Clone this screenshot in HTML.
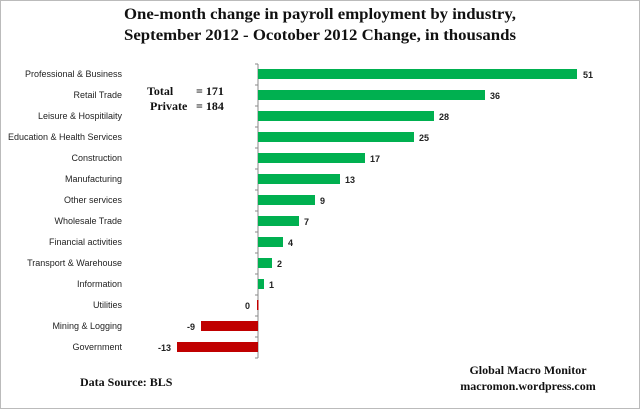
<!DOCTYPE html>
<html><head><style>
body{margin:0;background:#fff}
</style></head><body>
<svg width="640" height="409" xmlns="http://www.w3.org/2000/svg" font-family="'Liberation Sans',sans-serif">
<rect x="0.5" y="0.5" width="639" height="408" fill="#fff" stroke="#bbb"/>
<g font-family="'Liberation Serif',serif" font-weight="bold" font-size="16" text-anchor="middle" fill="#111">
<text x="320" y="19" textLength="392" lengthAdjust="spacingAndGlyphs">One-month change in payroll employment by industry,</text>
<text x="320" y="40" textLength="392" lengthAdjust="spacingAndGlyphs">September 2012 - Ocotober 2012  Change, in thousands</text>
</g>
<g font-family="'Liberation Serif',serif" font-weight="bold" font-size="12" fill="#111">
<text x="147" y="95">Total</text><text x="196" y="95">= 171</text>
<text x="150" y="110">Private</text><text x="196" y="110">= 184</text>
<text x="80" y="386">Data Source:  BLS</text>
<text x="528" y="374" text-anchor="middle">Global Macro Monitor</text>
<text x="528" y="390" text-anchor="middle">macromon.wordpress.com</text>
</g>
<line x1="258" y1="64" x2="258" y2="358" stroke="#888"/>
<g stroke="#888">
<line x1="255" y1="64" x2="258" y2="64"/><line x1="255" y1="85" x2="258" y2="85"/><line x1="255" y1="106" x2="258" y2="106"/><line x1="255" y1="127" x2="258" y2="127"/><line x1="255" y1="148" x2="258" y2="148"/><line x1="255" y1="169" x2="258" y2="169"/><line x1="255" y1="190" x2="258" y2="190"/><line x1="255" y1="211" x2="258" y2="211"/><line x1="255" y1="232" x2="258" y2="232"/><line x1="255" y1="253" x2="258" y2="253"/><line x1="255" y1="274" x2="258" y2="274"/><line x1="255" y1="295" x2="258" y2="295"/><line x1="255" y1="316" x2="258" y2="316"/><line x1="255" y1="337" x2="258" y2="337"/><line x1="255" y1="358" x2="258" y2="358"/>
</g>
<g fill="#00b050">
<rect x="258" y="69" width="319" height="10"/>
<rect x="258" y="90" width="227" height="10"/>
<rect x="258" y="111" width="176" height="10"/>
<rect x="258" y="132" width="156" height="10"/>
<rect x="258" y="153" width="107" height="10"/>
<rect x="258" y="174" width="82" height="10"/>
<rect x="258" y="195" width="57" height="10"/>
<rect x="258" y="216" width="41" height="10"/>
<rect x="258" y="237" width="25" height="10"/>
<rect x="258" y="258" width="14" height="10"/>
<rect x="258" y="279" width="6" height="10"/>
</g>
<g fill="#c00000">
<rect x="257" y="300" width="1.5" height="10"/>
<rect x="201" y="321" width="57" height="10"/>
<rect x="177" y="342" width="81" height="10"/>
</g>
<g font-size="9" font-weight="bold" fill="#222">
<text x="583" y="78">51</text><text x="490" y="99">36</text><text x="439" y="120">28</text><text x="419" y="141">25</text><text x="370" y="162">17</text><text x="345" y="183">13</text><text x="320" y="204">9</text><text x="304" y="225">7</text><text x="288" y="246">4</text><text x="277" y="267">2</text><text x="269" y="288">1</text>
<text x="250" y="309" text-anchor="end">0</text><text x="195" y="330" text-anchor="end">-9</text><text x="171" y="351" text-anchor="end">-13</text>
</g>
<g font-size="9" fill="#222" text-anchor="end">
<text x="122" y="77">Professional &amp; Business</text>
<text x="122" y="98">Retail Trade</text>
<text x="122" y="119">Leisure &amp; Hospitilaity</text>
<text x="122" y="140">Education &amp; Health Services</text>
<text x="122" y="161">Construction</text>
<text x="122" y="182">Manufacturing</text>
<text x="122" y="203">Other services</text>
<text x="122" y="224">Wholesale Trade</text>
<text x="122" y="245">Financial activities</text>
<text x="122" y="266">Transport &amp; Warehouse</text>
<text x="122" y="287">Information</text>
<text x="122" y="308">Utilities</text>
<text x="122" y="329">Mining &amp; Logging</text>
<text x="122" y="350">Government</text>
</g>
</svg>
</body></html>
